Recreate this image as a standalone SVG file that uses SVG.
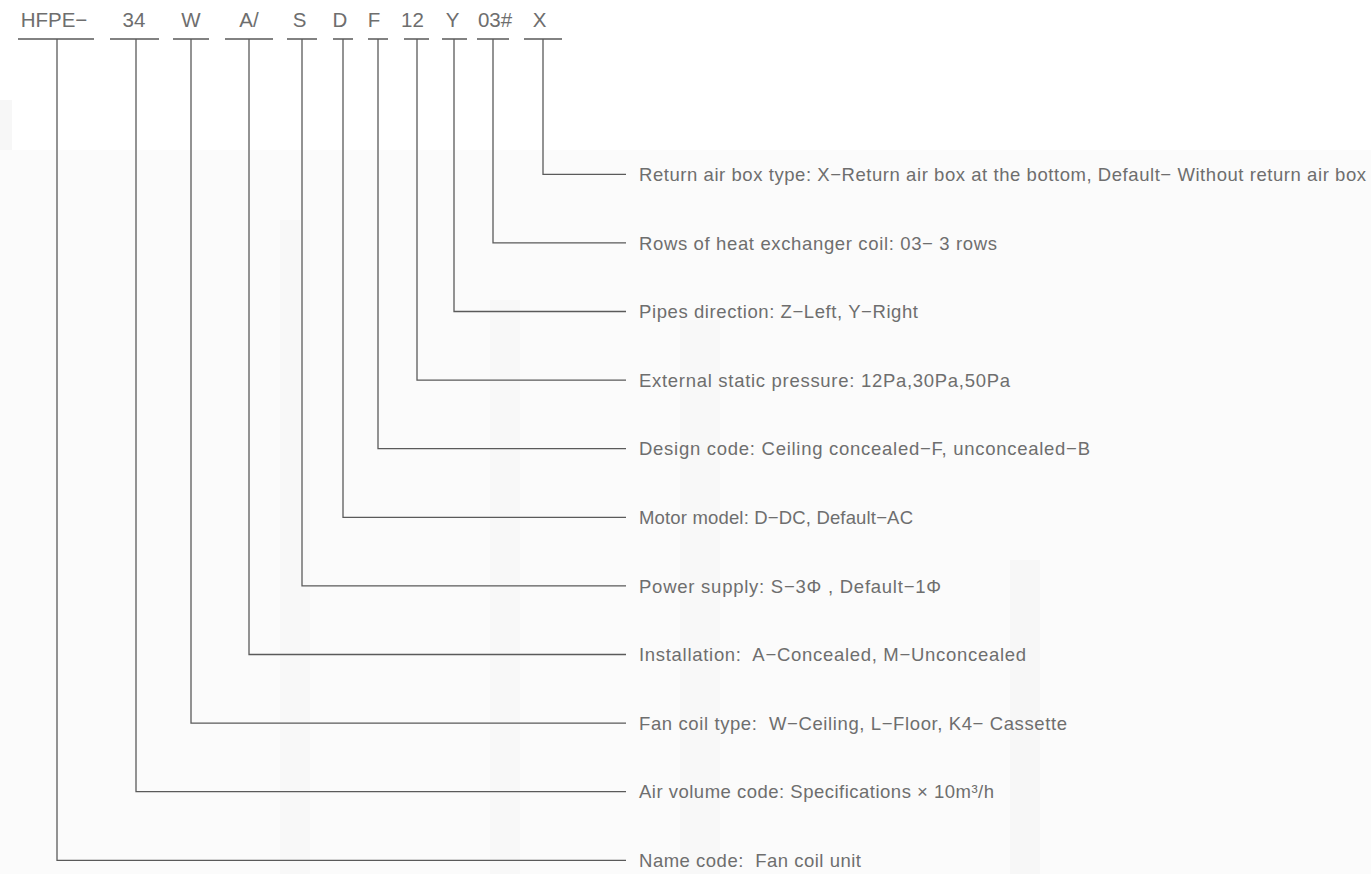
<svg xmlns="http://www.w3.org/2000/svg" width="1371" height="874" viewBox="0 0 1371 874">
<style>
.code{font-family:"Liberation Sans",Arial,sans-serif;font-size:20.5px;fill:#6e6e6e;text-anchor:middle}
.lbl{font-family:"Liberation Sans",Arial,sans-serif;font-size:18.5px;fill:#6e6e6e;white-space:pre}
.ln{fill:none;stroke:#5a5a5a;stroke-width:1.3}
</style>
<rect width="1371" height="874" fill="#ffffff"/>
<g id="bg" opacity="0.5">
<rect x="0" y="100" width="12" height="774" fill="#f0f0f0"/>
<rect x="0" y="150" width="1371" height="724" fill="#f8f8f8"/>
<rect x="280" y="220" width="30" height="654" fill="#f2f2f2"/>
<rect x="490" y="300" width="30" height="574" fill="#f2f2f2"/>
<rect x="680" y="320" width="40" height="554" fill="#f2f2f2"/>
<rect x="1010" y="560" width="30" height="314" fill="#f0f0f0"/>
</g>
<g id="header">
<text class="code" x="54" y="27.3">HFPE−</text>
<text class="code" x="134" y="27.3">34</text>
<text class="code" x="191" y="27.3">W</text>
<text class="code" x="249" y="27.3">A/</text>
<text class="code" x="299.5" y="27.3">S</text>
<text class="code" x="340" y="27.3">D</text>
<text class="code" x="374" y="27.3">F</text>
<text class="code" x="412.5" y="27.3">12</text>
<text class="code" x="452.5" y="27.3">Y</text>
<text class="code" x="495" y="27.3">03#</text>
<text class="code" x="539.5" y="27.3">X</text>
<path class="ln" d="M18 39H94M110 39H159M173 39H209M225 39H273M287 39H317M333 39H353M368 39H388M404 39H429M442 39H467M477 39H509M524 39H562"/>
</g>
<g id="connectors">
<path class="ln" d="M543 39V174.3H626"/>
<path class="ln" d="M493 39V242.9H626"/>
<path class="ln" d="M454 39V311.5H626"/>
<path class="ln" d="M417 39V380.1H626"/>
<path class="ln" d="M378 39V448.7H626"/>
<path class="ln" d="M343 39V517.3H626"/>
<path class="ln" d="M302 39V585.9H626"/>
<path class="ln" d="M249 39V654.5H626"/>
<path class="ln" d="M191 39V723.1H626"/>
<path class="ln" d="M136 39V791.7H626"/>
<path class="ln" d="M57 39V860.3H626"/>
</g>
<g id="n-return"><text class="lbl" x="639" y="181" textLength="727" lengthAdjust="spacing">Return air box type: X−Return air box at the bottom, Default− Without return air box</text></g>
<g id="n-rows"><text class="lbl" x="639" y="249.5" textLength="358" lengthAdjust="spacing">Rows of heat exchanger coil: 03− 3 rows</text></g>
<g id="n-pipes"><text class="lbl" x="639" y="318" textLength="279" lengthAdjust="spacing">Pipes direction: Z−Left, Y−Right</text></g>
<g id="n-static"><text class="lbl" x="639" y="386.7" textLength="371" lengthAdjust="spacing">External static pressure: 12Pa,30Pa,50Pa</text></g>
<g id="n-design"><text class="lbl" x="639" y="455.3" textLength="451" lengthAdjust="spacing">Design code: Ceiling concealed−F, unconcealed−B</text></g>
<g id="n-motor"><text class="lbl" x="639" y="524" textLength="274" lengthAdjust="spacing">Motor model: D−DC, Default−AC</text></g>
<g id="n-power"><text class="lbl" x="639" y="592.5" textLength="302" lengthAdjust="spacing">Power supply: S−3Φ , Default−1Φ</text></g>
<g id="n-install"><text class="lbl" x="639" y="661.1" textLength="387" lengthAdjust="spacing">Installation:  A−Concealed, M−Unconcealed</text></g>
<g id="n-type"><text class="lbl" x="639" y="729.7" textLength="428" lengthAdjust="spacing">Fan coil type:  W−Ceiling, L−Floor, K4− Cassette</text></g>
<g id="n-air"><text class="lbl" x="639" y="798.3" textLength="355" lengthAdjust="spacing">Air volume code: Specifications × 10m³/h</text></g>
<g id="n-name"><text class="lbl" x="639" y="866.9" textLength="222" lengthAdjust="spacing">Name code:  Fan coil unit</text></g>
</svg>
